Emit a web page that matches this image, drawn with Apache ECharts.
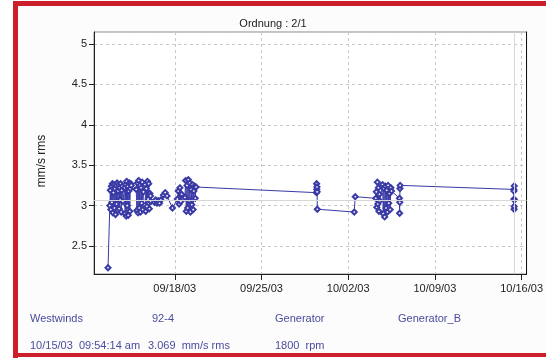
<!DOCTYPE html>
<html>
<head>
<meta charset="utf-8">
<script src="https://cdn.jsdelivr.net/npm/echarts@6/dist/echarts.min.js"></script>
<style>
html,body{margin:0;padding:0;background:#ffffff;}
#c{width:546px;height:358px;}
</style>
</head>
<body>
<div id="c"></div>
<script>
// Measurement times (2003, "MM/DD HH:MM") and values (mm/s rms)
const times = [
'09/12 14:40',
'09/12 18:10','09/12 19:10','09/12 20:10','09/12 21:10','09/12 22:10','09/12 23:10','09/13 00:10','09/13 01:10','09/13 02:10','09/13 03:10',
'09/13 04:10','09/13 05:10','09/13 06:10','09/13 07:10','09/13 08:10','09/13 09:10','09/13 10:10','09/13 11:10','09/13 12:10','09/13 13:10',
'09/13 14:10','09/13 15:10','09/13 16:10','09/13 17:10','09/13 18:10','09/13 19:30',
'09/13 22:50','09/13 23:50','09/14 00:50','09/14 01:50','09/14 02:50','09/14 03:50','09/14 04:50','09/14 05:50','09/14 06:50','09/14 07:50',
'09/14 08:50','09/14 09:50','09/14 10:50','09/14 11:40',
'09/14 21:20','09/14 22:30','09/14 23:40','09/15 00:50','09/15 02:00','09/15 03:10','09/15 04:20','09/15 05:30','09/15 06:40','09/15 07:50',
'09/15 09:00','09/15 10:10','09/15 11:20',
'09/15 14:30','09/15 15:40','09/15 16:50','09/15 18:00','09/15 19:10','09/15 20:20','09/15 21:30','09/15 22:40','09/15 23:50','09/16 01:00','09/16 01:50',
'09/16 08:30','09/16 11:00','09/16 13:30','09/16 16:00','09/16 18:30','09/16 21:00',
'09/17 02:00','09/17 05:30','09/17 09:00','09/17 19:30',
'09/18 05:00','09/18 06:40','09/18 08:20','09/18 10:00','09/18 11:40','09/18 13:20',
'09/18 19:40','09/18 21:00','09/18 22:20','09/18 23:40','09/19 01:00','09/19 02:20','09/19 03:40','09/19 05:00','09/19 06:20','09/19 07:40',
'09/19 09:00','09/19 10:20','09/19 11:40','09/19 13:00','09/19 14:20','09/19 15:40','09/19 17:10',
'09/29 10:30','09/29 10:50','09/29 11:10','09/29 11:30','09/29 11:50','09/29 12:10',
'10/02 11:45','10/02 13:40',
'10/04 05:30','10/04 06:30','10/04 07:30','10/04 08:30','10/04 09:30','10/04 10:30','10/04 11:30','10/04 12:30','10/04 13:10',
'10/04 18:40','10/04 20:00','10/04 21:20','10/04 22:40','10/05 00:00','10/05 01:20','10/05 02:40','10/05 04:00','10/05 05:20','10/05 06:40',
'10/05 08:00','10/05 09:20','10/05 10:40','10/05 12:00',
'10/06 03:20','10/06 03:40','10/06 04:00','10/06 04:20','10/06 04:40',
'10/15 09:00','10/15 09:10','10/15 09:20','10/15 09:30','10/15 09:40','10/15 09:50','10/15 09:54'
];
const values = [
2.23,
3.00,3.19,2.95,3.24,3.04,3.27,2.91,3.16,3.26,2.97,
3.21,2.89,3.25,3.02,3.28,2.94,3.18,3.26,2.96,3.22,
3.07,3.27,2.92,3.19,3.24,3.05,
3.22,2.90,3.26,2.87,3.30,3.00,3.24,2.88,3.18,3.28,
2.93,3.21,3.27,3.25,
3.20,2.94,3.28,2.91,3.31,2.97,3.25,2.92,3.22,3.03,
3.29,2.95,3.17,
3.26,2.93,3.21,2.99,3.30,3.08,3.27,2.96,3.15,3.12,3.05,
3.04,3.07,3.03,3.06,3.03,3.07,
3.13,3.16,3.12,2.97,
3.08,3.18,3.02,3.22,3.05,3.14,
3.10,3.31,2.93,3.25,2.97,3.32,3.06,3.28,2.92,3.20,
3.01,3.26,2.95,3.18,3.24,3.09,3.23,
3.16,3.27,3.20,3.23,3.17,2.955,
2.92,3.11,
3.09,3.17,2.98,3.29,3.02,3.22,2.93,3.14,3.06,
3.26,2.90,3.21,2.86,3.24,2.97,3.19,2.92,3.25,3.03,
3.15,2.95,3.22,3.18,
3.09,2.905,3.04,3.21,3.25,
3.20,3.18,3.08,2.955,2.99,3.244,3.069
];
const yTickLabels = ['2.5','3','3.5','4','4.5','5'];
const xTickLabels = ['09/18/03','09/25/03','10/02/03','10/09/03','10/16/03'];
const cursorTime = '10/15 09:54';
const cursorValue = 3.069;
const infoRow1 = ['Westwinds','92-4','Generator','Generator_B'];
const infoRow2 = ['10/15/03  09:54:14 am','3.069  mm/s rms','1800  rpm'];

function toMs(s){
  const p = s.split(' ');
  const md = p[0].split('/'); const hm = p[1].split(':');
  return Date.UTC(2003, +md[0]-1, +md[1], +hm[0], +hm[1]);
}
function fmtDate(v){
  const d = new Date(v);
  const mm = String(d.getUTCMonth()+1).padStart(2,'0');
  const dd = String(d.getUTCDate()).padStart(2,'0');
  const yy = String(d.getUTCFullYear()).slice(2);
  return mm+'/'+dd+'/'+yy;
}
const data = times.map((t,i)=>[toMs(t), values[i]]);
const DAY = 86400000;

const chart = echarts.init(document.getElementById('c'), null, {renderer:'canvas'});
const txt = '#222';
const infoColor = '#4b4b9e';
const infoX1 = [30,152,275,398];
const infoX2 = [30,148,275];
const graphics = [
  {type:'rect', shape:{x:18,y:6,width:528,height:347}, style:{fill:'#fcfcfc'}, z:-10},
  {type:'rect', shape:{x:13,y:1,width:533,height:5}, style:{fill:'#cc1f2b'}},
  {type:'rect', shape:{x:13,y:1,width:5,height:357}, style:{fill:'#cc1f2b'}},
  {type:'rect', shape:{x:13,y:353,width:533,height:4}, style:{fill:'#cc1f2b'}},
  {type:'text', x:42, y:161, rotation:Math.PI/2,
   style:{text:'mm/s rms', fill:txt, font:'12px "Liberation Sans", Arial, sans-serif', textAlign:'center', textVerticalAlign:'middle'}}
];
infoRow1.forEach((s,i)=>graphics.push({type:'text', x:infoX1[i], y:319,
  style:{text:s, fill:infoColor, font:'11px "Liberation Sans", Arial, sans-serif', textAlign:'left', textVerticalAlign:'middle'}}));
infoRow2.forEach((s,i)=>graphics.push({type:'text', x:infoX2[i], y:346,
  style:{text:s, fill:infoColor, font:'11px "Liberation Sans", Arial, sans-serif', textAlign:'left', textVerticalAlign:'middle'}}));

chart.setOption({
  animation:false,
  backgroundColor:'#ffffff',
  title:{text:'Ordnung : 2/1', left:'center', top:13,
    textStyle:{fontSize:11, fontWeight:'normal', color:txt, fontFamily:'"Liberation Sans", Arial, sans-serif'}},
  grid:{left:94, right:15, top:32, bottom:84, show:true, backgroundColor:'#ffffff', borderColor:'#8a8a8a', borderWidth:1},
  xAxis:{
    type:'value',
    min: Date.UTC(2003,8,11,11,30),
    max: Date.UTC(2003,9,16,9,40),
    minInterval:7*DAY, maxInterval:7*DAY,
    axisLine:{show:true, lineStyle:{color:'#222', width:1}},
    axisTick:{show:true, length:6, lineStyle:{color:'#222'}},
    axisLabel:{showMinLabel:false, showMaxLabel:false, margin:9, color:txt, fontSize:11,
      fontFamily:'"Liberation Sans", Arial, sans-serif',
      formatter:function(v){ const s = fmtDate(v); return xTickLabels.indexOf(s)>=0 ? s : ''; }},
    splitLine:{show:true, lineStyle:{color:'#c8c8c8', type:[3,3], width:1}}
  },
  yAxis:[{
    type:'value',
    min:2.153, max:5.149,
    minInterval:0.5, maxInterval:0.5,
    axisLine:{show:true, lineStyle:{color:'#222', width:1}},
    axisTick:{show:true, length:5, lineStyle:{color:'#222'}},
    axisLabel:{showMinLabel:false, showMaxLabel:false, margin:7, color:txt, fontSize:11,
      fontFamily:'"Liberation Sans", Arial, sans-serif',
      formatter:function(v){ const s = String(+v.toFixed(2)); return yTickLabels.indexOf(s)>=0 ? s : ''; }},
    splitLine:{show:true, lineStyle:{color:'#c8c8c8', type:[3,3], width:1}}
  },{
    type:'value', position:'right', min:2.153, max:5.149,
    axisLine:{show:true, lineStyle:{color:'#111', width:1}},
    axisTick:{show:false}, axisLabel:{show:false}, splitLine:{show:false}
  }],
  series:[{
    type:'line',
    data:data,
    symbol:'emptyDiamond',
    symbolSize:5,
    showAllSymbol:true,
    lineStyle:{color:'#3a3aa6', width:1},
    itemStyle:{color:'#3a3aa6', borderColor:'#5656b4', borderWidth:1},
    markLine:{
      silent:true, symbol:'none', label:{show:false},
      lineStyle:{color:'#d6d6d6', type:'solid', width:1},
      data:[{xAxis: toMs(cursorTime)}, {yAxis: cursorValue}]
    },
    z:3
  }],
  graphic:graphics
});
</script>
</body>
</html>
